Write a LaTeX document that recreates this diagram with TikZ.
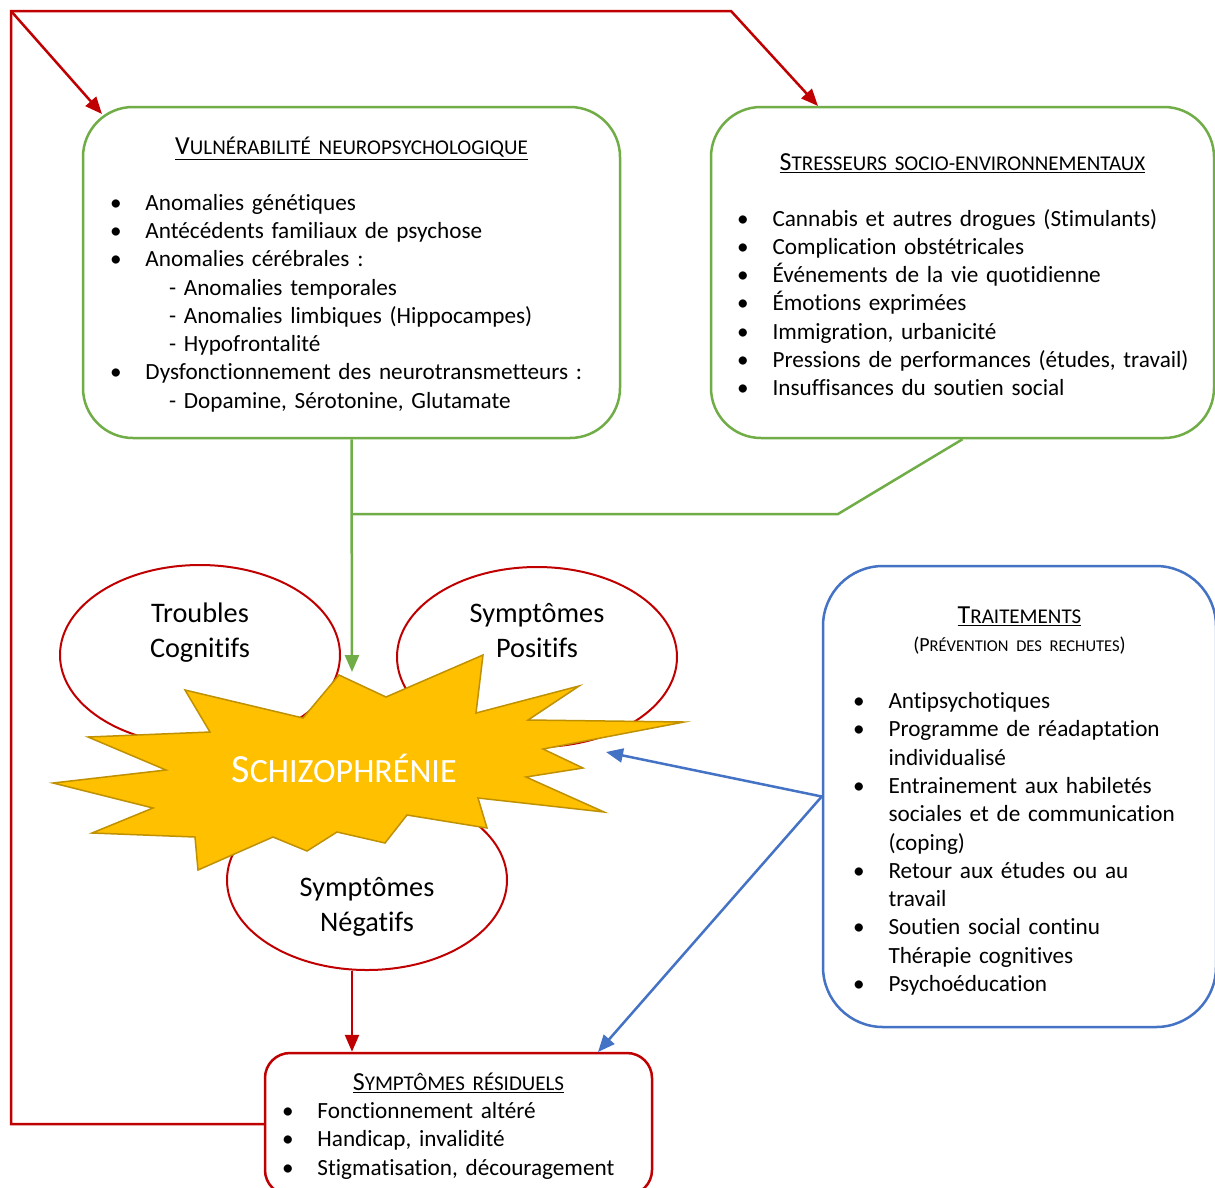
\documentclass[tikz,border=0pt]{standalone}
\usepackage{fontspec}
\setmainfont[Ligatures=NoCommon]{Carlito}
\usetikzlibrary{shapes.geometric, arrows.meta, positioning}
\definecolor{vert}{HTML}{70AD47}
\definecolor{rouge}{HTML}{C00000}
\definecolor{bleu}{HTML}{4472C4}
\definecolor{jaune}{HTML}{FFC000}
\definecolor{orfonce}{HTML}{BF9000}
\tikzset{
    >={Triangle[length=17pt,width=14pt]}, % pointes pleines
    boite/.style={draw, line width=2.5pt, rounded corners=50pt, align=left, inner ysep=0pt, font=\fontsize{23.2}{28.3}\selectfont}, % cadres de texte
    bulle/.style={ellipse, draw=rouge, line width=2pt, fill=white, minimum width=280pt, minimum height=180pt, inner sep=0pt},
    etiquette/.style={align=center, font=\fontsize{28.3}{35}\selectfont},
    lien vert/.style={draw=vert, line width=2.5pt},
    lien rouge/.style={draw=rouge, line width=2.5pt},
    lien bleu/.style={draw=bleu, line width=2.5pt},
    }
\newcommand{\puce}{\makebox[35.5pt][l]{•}}
\newcommand{\tiret}{\hspace*{59pt}-\ }
\newcommand{\suite}{\hspace*{35.5pt}}
\newcommand{\titre}[3][21.5pt]{\makebox[\linewidth]{\rule{0pt}{#1}\underline{\fontsize{26}{28.3}\selectfont #2\fontsize{21}{28.3}\selectfont #3}}}

\begin{document}
\begin{tikzpicture}[x=1pt, y=-1pt]
            \useasboundingbox[fill=white] (0,0) rectangle (1215,1187);
            % cadres
            \node[boite, draw=vert, text width=483pt, inner xsep=27pt, minimum height=331pt] (vuln) at (351.5,272.5) {
                \titre{V}{ULNÉRABILITÉ NEUROPSYCHOLOGIQUE}\\[27.3pt]
                \puce Anomalies génétiques\\
                \puce Antécédents familiaux de psychose\\
                \puce Anomalies cérébrales :\\
                \tiret Anomalies temporales\\
                \tiret Anomalies limbiques (Hippocampes)\\
                \tiret Hypofrontalité\\
                \puce Dysfonctionnement des neurotransmetteurs :\\
                \tiret Dopamine, Sérotonine, Glutamate};
            \node[boite, draw=vert, text width=451pt, inner xsep=26pt, minimum height=331pt] (stress) at (962.5,272.5) {
                \titre{S}{TRESSEURS SOCIO-ENVIRONNEMENTAUX}\\[27.3pt]
                \puce Cannabis et autres drogues (Stimulants)\\
                \puce Complication obstétricales\\
                \puce Événements de la vie quotidienne\\
                \puce Émotions exprimées\\
                \puce Immigration, urbanicité\\
                \puce \mbox{Pressions de performances (études, travail)}\\
                \puce Insuffisances du soutien social};
            \node[boite, draw=bleu, rounded corners=60pt, text width=333pt, inner xsep=30pt, minimum height=461pt] (trait) at (1019.5,796.5) {
                \titre[25.5pt]{T}{RAITEMENTS}\\
                \makebox[\linewidth]{\fontsize{20}{28.3}\selectfont(P\fontsize{16.5}{28.3}\selectfont RÉVENTION DES RECHUTES\fontsize{20}{28.3}\selectfont)}\\[28.7pt]
                \puce Antipsychotiques\\
                \puce Programme de réadaptation\\
                \suite individualisé\\
                \puce Entrainement aux habiletés\\
                \suite sociales et de communication\\
                \suite (coping)\\
                \puce Retour aux études ou au\\
                \suite travail\\
                \puce Soutien social continu\\
                \suite Thérapie cognitives\\
                \puce Psychoéducation};
            \node[boite, draw=rouge, rounded corners=25pt, text width=353pt, inner xsep=17pt, minimum height=142pt] (resid) at (458.5,1124) {
                \titre{S}{YMPTÔMES RÉSIDUELS}\\
                \puce Fonctionnement altéré\\
                \puce Handicap, invalidité\\
                \puce Stigmatisation, découragement};
            % bulles et explosion
            \node[bulle] (cognitif) at (200,655) {};
            \node[bulle] (positif) at (537,657) {};
            \node[bulle] (negatif) at (367,880) {};
            \draw[draw=orfonce, fill=jaune, line width=1.5pt, line join=miter]
                (339,675) -- (386,697) -- (483,655) -- (476,713) -- (579,686) -- (528,720)
                -- (684,722) -- (543,749) -- (583,768) -- (526,777) -- (604,812) -- (478,798)
                -- (487,828) -- (407,815) -- (385,843) -- (337,832) -- (307,851) -- (273,837)
                -- (198,870) -- (195,837) -- (92,833) -- (153,808) -- (53,783) -- (166,770)
                -- (88,737) -- (210,732) -- (185,690) -- (303,718) -- cycle;
            \node[etiquette] (tcog) at ([yshift=22pt]cognitif.center) {Troubles\\Cognitifs};
            \node[etiquette] (tpos) at ([yshift=26pt]positif.center) {Symptômes\\Positifs};
            \node[etiquette] (tneg) at ([yshift=-27pt]negatif.center) {Symptômes\\Négatifs};
            \node[text=white, font=\fontsize{40}{44}\selectfont] (schizo) at (344,768) {S\fontsize{34}{44}\selectfont CHIZOPHRÉNIE};
            % liens
            \coordinate (coinHG) at (11,11);
            \coordinate (coinHD) at (731,11);
            \coordinate (cibleV) at (102,114);
            \coordinate (cibleS) at (818,106);
            \coordinate (arrivee) at (352,672);
            \coordinate (coude) at (838,514);
            \coordinate (cibleP) at (606,752);
            \coordinate (cibleR) at (598,1052);
            \draw[lien rouge, ->] (resid.west) -| (coinHG) -- (coinHD) -- (cibleS);
            \draw[lien rouge, ->] (coinHG) -- (cibleV);
            \draw[lien vert, ->] (vuln.south) -- (arrivee);
            \draw[lien vert] (stress.south) -- (coude) -- (coude -| vuln.south);
            \draw[lien rouge, ->] ([xshift=-15pt]negatif.south) -- ([xshift=-15pt]negatif.south |- resid.north);
            \draw[lien bleu, ->] (trait.west) -- (cibleP);
            \draw[lien bleu, ->] (trait.west) -- (cibleR);
\end{tikzpicture}
\end{document}
